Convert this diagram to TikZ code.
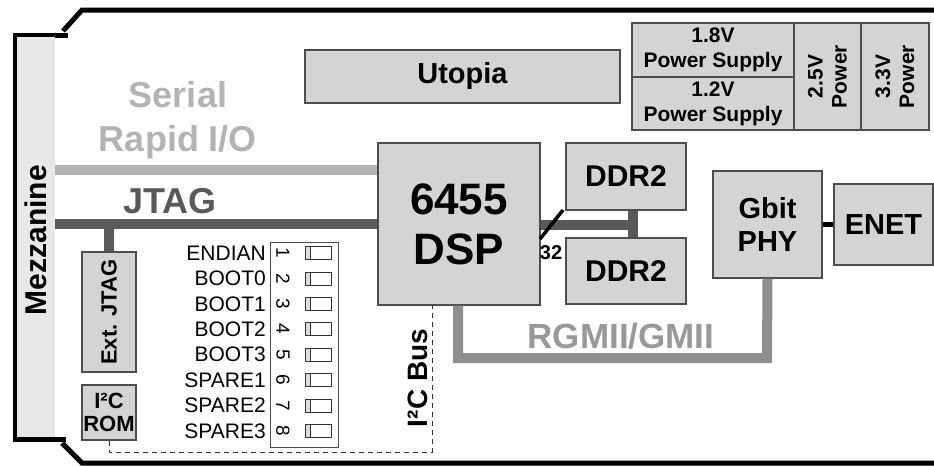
\documentclass[tikz,border=0pt]{standalone}
\usepackage{fontspec}
\setmainfont{Liberation Sans}
\usetikzlibrary{positioning}
\definecolor{boxfill}{HTML}{D4D4D4}
\definecolor{boxline}{HTML}{4D4D4D}
\definecolor{mezzgray}{HTML}{E8E8E8}
\definecolor{sriogray}{HTML}{B3B3B3}
\definecolor{jtaggray}{HTML}{595959}
\definecolor{rgmiigray}{HTML}{8F8F8F}
\definecolor{rgmiitext}{HTML}{999999}
\definecolor{swfill}{HTML}{DCDCDC}
\newcommand{\bfsz}[2]{\fontsize{#1}{#2}\selectfont\bfseries}
\newcommand{\rmsz}[2]{\fontsize{#1}{#2}\selectfont}

\begin{document}
\begin{tikzpicture}[x=1pt,y=-1pt,
  board/.style={line width=5pt,line join=miter},
  blk/.style={draw=boxline,fill=boxfill,line width=1.1pt,inner sep=0pt,align=center},
  bus/.style={line width=10pt},
  diplbl/.style={anchor=east,inner sep=0pt,font=\rmsz{21}{23}},
  dipnum/.style={rotate=-90,inner sep=0pt,font=\rmsz{19}{21}},
  dipsw/.style={draw=black!80,line width=0.8pt,minimum width=26pt,minimum height=13pt,inner sep=0pt,
    path picture={\fill[swfill] (path picture bounding box.north west) rectangle
      ([xshift=5pt]path picture bounding box.south west);
      \draw[black!80,line width=0.8pt] ([xshift=5pt]path picture bounding box.north west)
      -- ([xshift=5pt]path picture bounding box.south west);}}]
  \useasboundingbox (0,0) rectangle (934,466);

  % Board outline
  \draw[board] (934,10) -- (82,10) -- (63,31);
  \draw[board] (68,35) -- (15,35) -- (15,439) -- (66,439);
  \draw[board] (62,443) -- (82,463) -- (934,463);

  % Mezzanine strip
  \node[fill=mezzgray,minimum width=38pt,minimum height=400pt,inner sep=0pt] (mezz) at (36,237) {};
  \node[rotate=90,font=\bfsz{30}{32}] (mezzlbl) at (36,240) {Mezzanine};

  % Blocks
  \node[blk,minimum width=315pt,minimum height=53pt,font=\bfsz{29}{31}] (utopia) at (462.5,76.5) {Utopia};
  \node[blk,minimum width=162pt,minimum height=162pt,font=\bfsz{44}{50}] (dsp) at (459,224) {6455\\DSP};
  \node[blk,minimum width=120pt,minimum height=67pt,font=\bfsz{30}{32}] (ddra) at (626,176.5) {DDR2};
  \node[blk,minimum width=120pt,minimum height=66pt,font=\bfsz{30}{32}] (ddrb) at (626,271) {DDR2};
  \node[blk,minimum width=109pt,minimum height=107pt,font=\bfsz{29}{33}] (phy) at (767.5,224.5) {Gbit\\PHY};
  \node[blk,minimum width=99pt,minimum height=81pt,font=\bfsz{29}{31}] (enet) at (883.5,224.5) {ENET};
  \node[blk,minimum width=54pt,minimum height=120pt] (extjtag) at (109,312) {};
  \node[rotate=90,font=\bfsz{22}{24}] (extjtaglbl) at (extjtag) {Ext. JTAG};
  \node[blk,minimum width=54pt,minimum height=55pt,font=\bfsz{22}{23}] (rom) at (109,412.5) {I²C\\ROM};

  % Power supplies
  \node[blk,minimum width=162pt,minimum height=54pt,font=\bfsz{21}{25}] (pwra) at (713,50) {1.8V\\Power Supply};
  \node[blk,minimum width=162pt,minimum height=53pt,font=\bfsz{21}{25}] (pwrb) at (713,103.5) {1.2V\\Power Supply};
  \node[blk,minimum width=67pt,minimum height=107pt] (pwrc) at (827.5,76.5) {};
  \node[rotate=90,font=\bfsz{21}{24},align=center] (pwrclbl) at (pwrc) {2.5V\\Power};
  \node[blk,minimum width=68pt,minimum height=107pt] (pwrd) at (895,76.5) {};
  \node[rotate=90,font=\bfsz{21}{24},align=center] (pwrdlbl) at (pwrd) {3.3V\\Power};

  % DIP switch
  \node[draw=boxline,line width=1pt,minimum width=68pt,minimum height=205pt,inner sep=0pt] (dip) at (304,344.5) {};
  \foreach \lbl [count=\n] in {ENDIAN,BOOT0,BOOT1,BOOT2,BOOT3,SPARE1,SPARE2,SPARE3}{
    \pgfmathsetmacro\yy{253+25.4*(\n-1)}
    \node[diplbl] (lbl\n) at (266,\yy) {\lbl};
    \node[dipnum] (num\n) at (283,\yy) {\n};
    \node[dipsw] (sw\n) at (318,\yy) {};
  }

  % Buses
  \coordinate (srio) at (55,170);
  \coordinate (jtag) at (55,224);
  \coordinate (ddrbus) at (633,225);
  \coordinate (i2c) at (432,452);
  \draw[bus,sriogray] (srio) -- (srio -| dsp.west);
  \draw[bus,jtaggray] (jtag) -- (jtag -| dsp.west);
  \draw[bus,jtaggray] (extjtag.north |- jtag) -- (extjtag.north);
  \draw[bus,jtaggray] (dsp.east |- ddrbus) -- ([xshift=5pt]ddrbus);
  \draw[bus,jtaggray] (ddra.south -| ddrbus) -- (ddrb.north -| ddrbus);
  \draw[line width=3.5pt] (540,239) -- (563,210);
  \node[font=\bfsz{20}{22},inner sep=0pt] (width) at (551,253) {32};
  \draw[bus,rgmiigray] (dsp.south -| 458,0) |- (767,358) -- (phy.south);
  \draw[line width=5pt] (phy.east) -- (enet.west);
  \draw[dash pattern=on 5pt off 4pt,line width=0.9pt,black!80] (rom.south) |- (i2c) -- (i2c |- dsp.south);

  % Bus labels
  \node[sriogray,font=\bfsz{36}{44},align=center] (sriolbl) at (178,120) {Serial\\Rapid I/O};
  \node[jtaggray,font=\bfsz{36}{38},anchor=base] (jtaglbl) at (170,213) {JTAG};
  \node[rgmiitext,font=\bfsz{35}{37},anchor=base] (rgmiilbl) at (621,348) {RGMII/GMII};
  \node[rotate=90,font=\bfsz{28}{30}] (i2clbl) at (418,378) {I²C Bus};
\end{tikzpicture}
\end{document}
